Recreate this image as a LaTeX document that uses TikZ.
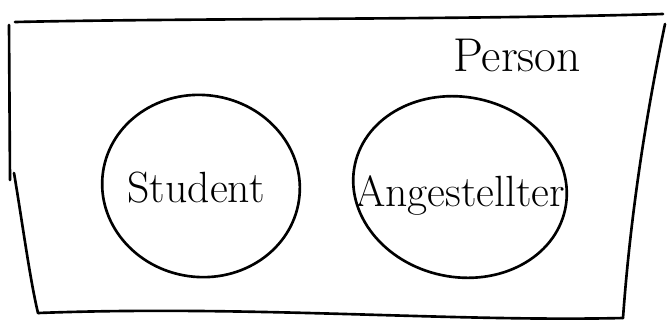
\documentclass[tikz,border=0pt]{standalone}
\usepackage{tikz}
\usetikzlibrary{shapes.geometric,calc}

\begin{document}
\begin{tikzpicture}[x=0.02cm,y=-0.02cm,
    stroke/.style={line width=1.5pt,line cap=round,line join=round},
    setnode/.style={stroke,draw,ellipse,inner sep=0pt}]
    \useasboundingbox (0,0) rectangle (668,325);
    % outer box
    \coordinate (tl) at (15,22);
    \coordinate (tr) at (663,14);
    \coordinate (bl) at (38,313);
    \coordinate (br) at (623,318);
    \draw[stroke] (tl) .. controls (200,18) and (450,20) .. (tr);
    \draw[stroke] (9,25) -- (10,180);
    \draw[stroke] (14,173) .. controls (22,220) and (30,280) .. (bl);
    \draw[stroke] (bl) .. controls (250,305) and (450,322) .. (br);
    \draw[stroke] ($(tr)+(2,10)$) .. controls (645,120) and (630,220) .. (br);
    \node (person) at (517,55) {\fontsize{27}{30}\selectfont Person};
    % subsets
    \node[setnode,minimum width=3.96cm,minimum height=3.64cm,rotate=-8] (student) at (201,186) {};
    \node at ($(student)+(-5,2)$) {\Huge Student};
    \node[setnode,minimum width=4.3cm,minimum height=3.6cm,rotate=-12] (angest) at (460,187) {};
    \node at ($(angest)+(0,8)$) {\Huge Angestellter};
  \end{tikzpicture}
\end{document}
